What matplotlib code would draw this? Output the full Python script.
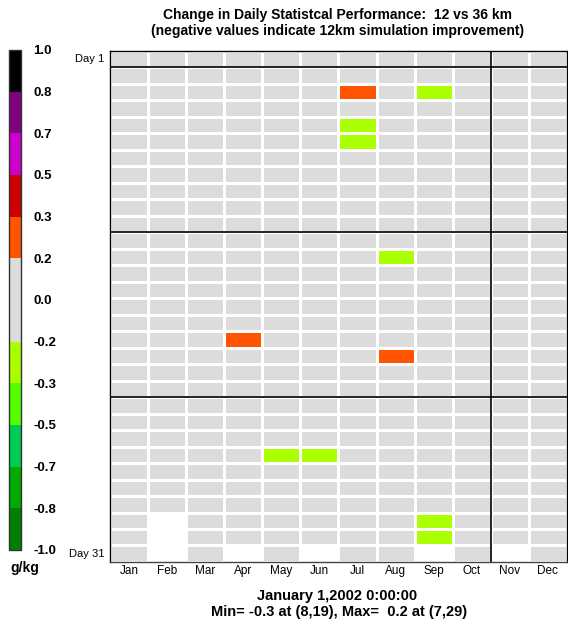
import numpy as np
import matplotlib
matplotlib.use('Agg')
import matplotlib.pyplot as plt
from matplotlib.colors import ListedColormap, BoundaryNorm
from matplotlib.cm import ScalarMappable

plt.rcParams['font.family'] = ['Liberation Sans', 'DejaVu Sans']

#months across, days down (day 1 at top), nan = day does not exist
months = ['Jan', 'Feb', 'Mar', 'Apr', 'May', 'Jun', 'Jul', 'Aug', 'Sep', 'Oct', 'Nov', 'Dec']
n = np.nan
values = [
    #Jan  Feb   Mar  Apr   May    Jun    Jul    Aug   Sep    Oct  Nov  Dec
    [0,   0,    0,   0,    0,     0,     0,     0,    0,     0,   0,   0],   # 1
    [0,   0,    0,   0,    0,     0,     0,     0,    0,     0,   0,   0],   # 2
    [0,   0,    0,   0,    0,     0,     0.2,   0,    -0.25, 0,   0,   0],   # 3
    [0,   0,    0,   0,    0,     0,     0,     0,    0,     0,   0,   0],   # 4
    [0,   0,    0,   0,    0,     0,     -0.25, 0,    0,     0,   0,   0],   # 5
    [0,   0,    0,   0,    0,     0,     -0.25, 0,    0,     0,   0,   0],   # 6
    [0,   0,    0,   0,    0,     0,     0,     0,    0,     0,   0,   0],   # 7
    [0,   0,    0,   0,    0,     0,     0,     0,    0,     0,   0,   0],   # 8
    [0,   0,    0,   0,    0,     0,     0,     0,    0,     0,   0,   0],   # 9
    [0,   0,    0,   0,    0,     0,     0,     0,    0,     0,   0,   0],   # 10
    [0,   0,    0,   0,    0,     0,     0,     0,    0,     0,   0,   0],   # 11
    [0,   0,    0,   0,    0,     0,     0,     0,    0,     0,   0,   0],   # 12
    [0,   0,    0,   0,    0,     0,     0,     -0.3, 0,     0,   0,   0],   # 13
    [0,   0,    0,   0,    0,     0,     0,     0,    0,     0,   0,   0],   # 14
    [0,   0,    0,   0,    0,     0,     0,     0,    0,     0,   0,   0],   # 15
    [0,   0,    0,   0,    0,     0,     0,     0,    0,     0,   0,   0],   # 16
    [0,   0,    0,   0,    0,     0,     0,     0,    0,     0,   0,   0],   # 17
    [0,   0,    0,   0.25, 0,     0,     0,     0,    0,     0,   0,   0],   # 18
    [0,   0,    0,   0,    0,     0,     0,     0.25, 0,     0,   0,   0],   # 19
    [0,   0,    0,   0,    0,     0,     0,     0,    0,     0,   0,   0],   # 20
    [0,   0,    0,   0,    0,     0,     0,     0,    0,     0,   0,   0],   # 21
    [0,   0,    0,   0,    0,     0,     0,     0,    0,     0,   0,   0],   # 22
    [0,   0,    0,   0,    0,     0,     0,     0,    0,     0,   0,   0],   # 23
    [0,   0,    0,   0,    0,     0,     0,     0,    0,     0,   0,   0],   # 24
    [0,   0,    0,   0,    -0.25, -0.25, 0,     0,    0,     0,   0,   0],   # 25
    [0,   0,    0,   0,    0,     0,     0,     0,    0,     0,   0,   0],   # 26
    [0,   0,    0,   0,    0,     0,     0,     0,    0,     0,   0,   0],   # 27
    [0,   0,    0,   0,    0,     0,     0,     0,    0,     0,   0,   0],   # 28
    [0,   n,    0,   0,    0,     0,     0,     0,    -0.25, 0,   0,   0],   # 29
    [0,   n,    0,   0,    0,     0,     0,     0,    -0.25, 0,   0,   0],   # 30
    [0,   n,    0,   n,    0,     n,     0,     0,    n,     0,   n,   0],   # 31
]

#colour scale
levels = np.linspace(-1, 1, 13)
level_labels = ['-1.0', '-0.8', '-0.7', '-0.5', '-0.3', '-0.2', '0.0',
                '0.2', '0.3', '0.5', '0.7', '0.8', '1.0']
colors = ['#008000', '#00aa00', '#00cc55', '#55ff00', '#aaff00', '#dcdcdc',
          '#dcdcdc', '#ff5500', '#cc0000', '#cc00cc', '#800080', '#000000']

cmap = ListedColormap(colors)
cmap.set_bad('white')
norm = BoundaryNorm(levels, cmap.N)

fig = plt.figure(figsize=(5.68, 6.24), dpi=100)
ax = fig.add_axes([0.1937, 0.0994, 0.8043, 0.8189])

data = np.ma.masked_invalid(np.array(values, dtype=float))
ax.pcolormesh(np.arange(13), np.arange(32), data, cmap=cmap, norm=norm,
              edgecolors='white', linewidth=0.8)
ax.set_xlim(0, 12)
ax.set_ylim(31, 0)

#section separators
for d in [1, 11, 21]:
    ax.axhline(d, color='#222222', lw=1.4)
ax.axvline(10, color='black', lw=1.2)

ax.set_xticks(np.arange(12) + 0.5)
ax.set_xticklabels(months, fontsize=8.5)
ax.tick_params(axis='x', length=0, pad=2)
ax.set_yticks([])
for s in ax.spines.values():
    s.set_color('black')
    s.set_linewidth(1.0)
ax.spines['bottom'].set_color('#444444')

ax.text(-0.15, 0.5, 'Day 1', ha='right', va='center', fontsize=8)
ax.text(-0.15, 30.5, 'Day 31', ha='right', va='center', fontsize=8)

#colour bar on the left
cax = fig.add_axes([0.0158, 0.1186, 0.0211, 0.8013])
cb = fig.colorbar(ScalarMappable(norm=norm, cmap=cmap), cax=cax, ticks=levels)
cb.set_ticklabels(level_labels)
cb.outline.set_edgecolor('#333333')
cb.outline.set_linewidth(1.0)
cax.tick_params(length=0, pad=9)
for t in cax.get_yticklabels():
    t.set_fontsize(9.5)
    t.set_fontweight('bold')

fig.text(10 / 568, 1 - 568 / 624, 'g/kg', ha='left', va='center',
         fontsize=10, fontweight='bold')

fig.text(0.594, 1 - 15 / 624, 'Change in Daily Statistcal Performance:  12 vs 36 km',
         ha='center', va='center', fontsize=10, fontweight='bold')
fig.text(0.594, 1 - 31 / 624, '(negative values indicate 12km simulation improvement)',
         ha='center', va='center', fontsize=10, fontweight='bold')

fig.text(0.593, 1 - 596 / 624, 'January 1,2002 0:00:00',
         ha='center', va='center', fontsize=10.5, fontweight='bold')
fig.text(0.597, 1 - 612 / 624, 'Min= -0.3 at (8,19), Max=  0.2 at (7,29)',
         ha='center', va='center', fontsize=10.5, fontweight='bold')

fig.savefig('out.png', dpi=100)
